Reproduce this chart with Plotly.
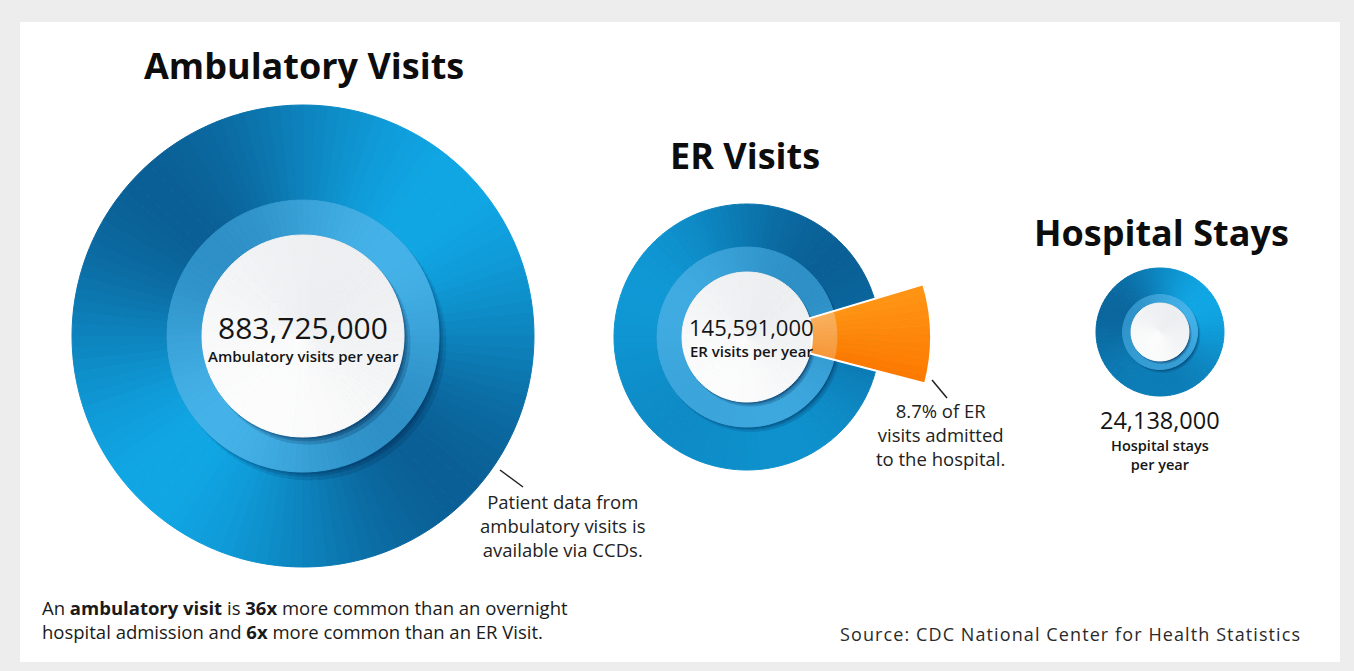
import numpy as np
import plotly.graph_objects as go

W, H = 1354, 671

# ---------------- data ----------------
categories = ["Ambulatory Visits", "ER Visits", "Hospital Stays"]
visits_per_year = [883725000, 145591000, 24138000]
unit_labels = [["Ambulatory visits per year"], ["ER visits per year"], ["Hospital stays", "per year"]]
er_admitted_pct = 8.7
amb_vs_hospital = 36
amb_vs_er = 6
note_ccd = ["Patient data from", "ambulatory visits is", "available via CCDs."]
note_er = [f"{er_admitted_pct}% of ER", "visits admitted", "to the hospital."]
footnote = [f"An <b>ambulatory visit</b> is <b>{amb_vs_hospital}x</b> more common than an overnight",
            f"hospital admission and <b>{amb_vs_er}x</b> more common than an ER Visit."]
source_text = "Source: CDC National Center for Health Statistics"

# ---------------- layout geometry (pixels) ----------------
GEOM = [
    dict(cx=303, cy=336, ro=231, rl=136, rw=101, rd=233, p2=45, a2=1.0, p1=0, a1=0.0),
    dict(cx=747, cy=337, ro=133, rl=90, rw=65, rd=188, p2=-45, a2=0.45, p1=215, a1=0.75),
    dict(cx=1160, cy=332, ro=64, rl=37.5, rw=29, rd=66, p2=45, a2=0.4, p1=15, a1=0.8),
]
ER_WEDGE_OUT = 184
ER_WEDGE_CENTER = 1.0

FONT = "Open Sans"
N = 120
STEP = 360 / N
TH = np.arange(N) * STEP + STEP / 2


def px(x):
    return x / W


def py(y):
    return 1 - y / H


def mix(c1, c2, t):
    return "rgb(%d,%d,%d)" % tuple(int(round(a + (b - a) * t)) for a, b in zip(c1, c2))


def conic(dark, bright, g):
    v = g["a2"] * np.cos(np.radians(2 * (TH - g["p2"]))) + g["a1"] * np.cos(np.radians(TH - g["p1"]))
    v = v / max(abs(v).max(), 1e-9)
    t = 0.5 + 0.5 * v
    return [mix(dark, bright, x) for x in t]


fig = go.Figure()


def ring(sub, base, r, colors):
    fig.add_trace(go.Barpolar(
        r=[r] * N, theta=TH, width=[STEP] * N, base=base,
        marker=dict(color=colors, line=dict(color=colors, width=1)),
        subplot=sub, hoverinfo="skip", showlegend=False))


def shadow(sub, base, depth, alpha):
    c = np.clip(np.cos(np.radians(TH + 50)), 0, None)
    for frac, a in [(1.0, alpha * 0.5), (0.55, alpha * 0.6), (0.25, alpha * 0.7)]:
        rr = 0.5 + depth * frac * c
        cols = ["rgba(0,35,75,%.3f)" % (a * (0.3 + 0.7 * v)) for v in c]
        fig.add_trace(go.Barpolar(
            r=list(rr), theta=TH, width=[STEP] * N, base=base,
            marker=dict(color=cols, line=dict(width=0)),
            subplot=sub, hoverinfo="skip", showlegend=False))


layout_polars = {}
for i, g in enumerate(GEOM):
    sub = "polar" if i == 0 else f"polar{i + 1}"
    s = g["ro"] / 231
    ring(sub, 0, g["ro"], conic((10, 96, 150), (16, 166, 228), g))
    shadow(sub, g["rl"], 10 * max(s, 0.35), 0.35)
    ring(sub, 0, g["rl"], conic((46, 144, 198), (68, 178, 232), g))
    shadow(sub, g["rw"], 9 * max(s, 0.35), 0.45)
    wt = 0.5 + 0.5 * np.cos(np.radians(TH - 240))
    ring(sub, 0, g["rw"], [mix((238, 239, 241), (252, 252, 252), v) for v in wt])

    if i == 1:
        span = er_admitted_pct / 100 * 360
        k = 12
        sw = span / k
        sth = ER_WEDGE_CENTER - span / 2 + sw / 2 + np.arange(k) * sw
        tt = np.linspace(0, 1, k)
        outer_cols = [mix((252, 122, 0), (255, 148, 20), v) for v in tt]
        inner_cols = [mix((246, 152, 58), (250, 176, 92), v) for v in tt]
        fig.add_trace(go.Barpolar(
            r=[ER_WEDGE_OUT - g["rw"]] * k, theta=sth, width=[sw] * k, base=g["rw"],
            marker=dict(color=outer_cols, line=dict(color=outer_cols, width=0.8)),
            subplot=sub, hoverinfo="skip", showlegend=False))
        fig.add_trace(go.Barpolar(
            r=[g["rl"] - g["rw"]] * k, theta=sth, width=[sw] * k, base=g["rw"],
            marker=dict(color=inner_cols, line=dict(color=inner_cols, width=0.8)),
            subplot=sub, hoverinfo="skip", showlegend=False))
        fig.add_trace(go.Barpolar(
            r=[ER_WEDGE_OUT - g["rw"]], theta=[ER_WEDGE_CENTER], width=[span], base=g["rw"],
            marker=dict(color="rgba(0,0,0,0)", line=dict(color="white", width=2)),
            subplot=sub, hoverinfo="skip", showlegend=False))

    rd = g["rd"]
    layout_polars[sub] = dict(
        domain=dict(x=[px(g["cx"] - rd), px(g["cx"] + rd)],
                    y=[py(g["cy"] + rd), py(g["cy"] - rd)]),
        bgcolor="rgba(0,0,0,0)", bargap=0, hole=0,
        radialaxis=dict(range=[0, rd], visible=False, showgrid=False),
        angularaxis=dict(visible=False, showgrid=False, rotation=0,
                         direction="counterclockwise"),
    )

fig.update_layout(**layout_polars)

ann = []


def text(x, y, s, size, weight="normal", anchor="center", color="#151515"):
    ann.append(dict(x=px(x), y=py(y), xref="paper", yref="paper", text=s, showarrow=False,
                    xanchor=anchor, yanchor="middle", align=anchor if anchor != "center" else "center",
                    font=dict(family=FONT, size=size, color=color, weight=weight)))


# titles
title_pos = [(304, 65), (745, 155), (1161, 232)]
for (x, y), t in zip(title_pos, categories):
    text(x, y, t, 36, weight="bold", color="#0d0d0d")

# numbers & labels
num_pos = [(303, 327, 30), (751, 327, 22), (1160, 420, 23.5)]
lab_pos = [(303, 356, 15), (751, 351, 15), (1160, 455, 14.5)]
for (x, y, s), v in zip(num_pos, visits_per_year):
    text(x, y, f"{v:,}", s)
for (x, y, s), lines in zip(lab_pos, unit_labels):
    text(x, y, "<br>".join(lines), s, weight=600)

text(562, 525, "<br>".join(note_ccd), 18.5, color="#222222")
text(940, 434, "<br>".join(note_er), 18.5, color="#222222")
text(40, 619, "<br>".join(footnote), 18.5, anchor="left", color="#1a1a1a")

ann.append(dict(x=px(1303), y=py(634), xref="paper", yref="paper", showarrow=False,
                xanchor="right", yanchor="middle",
                text=f'<span style="letter-spacing:1.1px">{source_text}</span>',
                font=dict(family=FONT, size=18, color="#2a2a2a")))

shapes = [
    dict(type="rect", xref="paper", yref="paper", x0=px(20), x1=px(1340), y0=py(662), y1=py(22),
         fillcolor="white", line=dict(width=0), layer="below"),
    dict(type="line", xref="paper", yref="paper", x0=px(500), y0=py(470), x1=px(523), y1=py(487),
         line=dict(color="#222222", width=1.5)),
    dict(type="line", xref="paper", yref="paper", x0=px(932), y0=py(380), x1=px(947), y1=py(398),
         line=dict(color="#222222", width=1.5)),
]

fig.update_layout(
    width=W, height=H, margin=dict(l=0, r=0, t=0, b=0),
    paper_bgcolor="#ededed", plot_bgcolor="rgba(0,0,0,0)",
    showlegend=False, annotations=ann, shapes=shapes,
)

fig.write_html("out.html", config={"displayModeBar": False},
               post_script="document.body.style.margin='0';document.body.style.overflow='hidden';")
